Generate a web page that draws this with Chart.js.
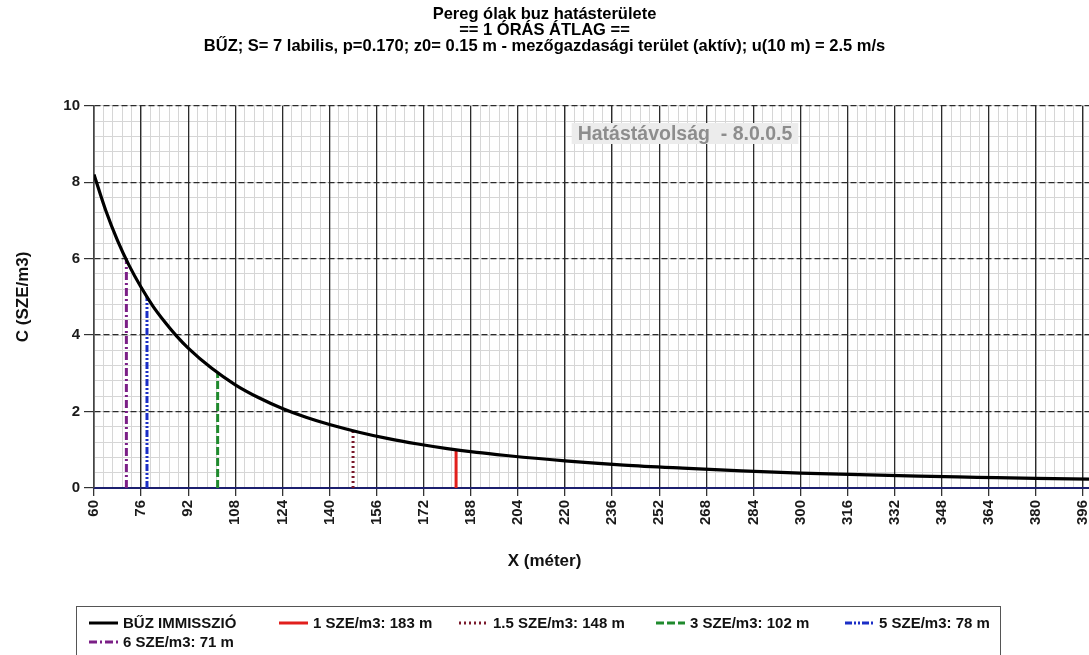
<!DOCTYPE html>
<html>
<head>
<meta charset="utf-8">
<script src="https://cdn.jsdelivr.net/npm/chart.js@4.4.1/dist/chart.umd.min.js"></script>
<style>
  html, body { margin: 0; padding: 0; background: #fff; }
  #wrap { width: 1089px; height: 655px; }
</style>
</head>
<body>
<div id="wrap"><canvas id="chart" width="1089" height="655"></canvas></div>
<script>
// distance from source (m) and concentration (SZE/m3)
const distances = [60, 64, 68, 72, 76, 80, 84, 88, 92, 100, 108, 116, 124, 132, 140, 150, 160, 170, 180, 190, 200, 220, 240, 260, 280, 300, 320, 340, 360, 380, 398];
const concentrations = [8.2, 7.26, 6.47, 5.81, 5.25, 4.76, 4.35, 3.98, 3.66, 3.13, 2.70, 2.36, 2.08, 1.85, 1.66, 1.46, 1.29, 1.15, 1.03, 0.93, 0.85, 0.71, 0.60, 0.52, 0.45, 0.39, 0.35, 0.31, 0.28, 0.25, 0.23];

// threshold markers
const limitLabels = ["1 SZE/m3: 183 m", "1.5 SZE/m3: 148 m", "3 SZE/m3: 102 m", "5 SZE/m3: 78 m", "6 SZE/m3: 71 m"];
const limitDistances = [183, 148, 102, 78, 71];
const limitLevels = [1, 1.5, 3, 5, 6];
const limitColors = ["#e11f1c", "#7a1a2c", "#1f8a2d", "#1b2ec6", "#7b1f86"];
const limitDashes = [[], [2, 3], [8, 3], [7, 2, 2, 2, 2, 2], [8, 3, 2, 3]];

const xTicks = [60, 76, 92, 108, 124, 140, 156, 172, 188, 204, 220, 236, 252, 268, 284, 300, 316, 332, 348, 364, 380, 396];
const yTicks = [0, 2, 4, 6, 8, 10];

const titleLines = [
  "Pereg ólak buz hatásterülete",
  "== 1 ÓRÁS ÁTLAG ==",
  "BŰZ; S= 7 labilis, p=0.170; z0= 0.15 m - mezőgazdasági terület (aktív); u(10 m) = 2.5 m/s"
];
const noteText = "Hatástávolság  - 8.0.0.5";

const FONT = '"Liberation Sans", Arial, sans-serif';
Chart.defaults.font.family = FONT;

const datasets = [{
  label: "BŰZ IMMISSZIÓ",
  data: distances.map((x, i) => ({ x: x, y: concentrations[i] })),
  showLine: true,
  borderColor: "#000",
  borderWidth: 3.2,
  pointRadius: 0,
  cubicInterpolationMode: "monotone",
  order: 0
}];
limitLabels.forEach((lab, i) => {
  datasets.push({
    label: lab,
    data: [{ x: limitDistances[i], y: 0 }, { x: limitDistances[i], y: limitLevels[i] }],
    showLine: true,
    borderColor: limitColors[i],
    borderWidth: 3,
    borderDash: limitDashes[i],
    pointRadius: 0,
    order: 1
  });
});

// light-grey box with the program version text
const notePlugin = {
  id: "note",
  beforeDatasetsDraw(chart) {
    const ctx = chart.ctx;
    ctx.save();
    ctx.font = "bold 19.5px " + FONT;
    const w = ctx.measureText(noteText).width;
    const cx = 685, cy = 134;
    ctx.fillStyle = "#ececec";
    ctx.fillRect(cx - w / 2 - 6, cy - 11, w + 12, 21);
    ctx.fillStyle = "#8d8d8d";
    ctx.textAlign = "center";
    ctx.textBaseline = "middle";
    ctx.fillText(noteText, cx, cy + 1);
    ctx.restore();
  }
};

// boxed legend below the x axis title
const boxLegend = {
  id: "boxLegend",
  afterDraw(chart) {
    const ctx = chart.ctx;
    const slots = [[89, 623], [279, 623], [459, 623], [656, 623], [845, 623], [89, 642]];
    ctx.save();
    ctx.fillStyle = "#fff";
    ctx.fillRect(76, 606, 924, 60);
    ctx.strokeStyle = "#555";
    ctx.lineWidth = 1;
    ctx.strokeRect(76.5, 606.5, 924, 60);
    ctx.font = "bold 15px " + FONT;
    ctx.textBaseline = "middle";
    chart.data.datasets.forEach((ds, i) => {
      const [x, y] = slots[i];
      ctx.strokeStyle = ds.borderColor;
      ctx.lineWidth = 3;
      ctx.setLineDash(ds.borderDash || []);
      ctx.beginPath();
      ctx.moveTo(x, y);
      ctx.lineTo(x + 29, y);
      ctx.stroke();
      ctx.setLineDash([]);
      ctx.fillStyle = "#111";
      ctx.fillText(ds.label, x + 34, y + 1);
    });
    ctx.restore();
  }
};

const config = {
  type: "scatter",
  data: { datasets: datasets },
  options: {
    responsive: false,
    animation: false,
    layout: { padding: { left: 0, right: 0, top: 0, bottom: 80 } },
    plugins: {
      legend: { display: false },
      tooltip: { enabled: false },
      title: {
        display: true,
        text: titleLines,
        color: "#000",
        font: { size: 16.5, weight: "bold", lineHeight: 0.97 },
        padding: { top: 6, bottom: 51.7 }
      },
      subtitle: {
        display: true,
        position: "bottom",
        text: "X (méter)",
        color: "#111",
        font: { size: 17, weight: "bold", lineHeight: 1.2 },
        padding: { top: 0, bottom: 3 }
      }
    },
    scales: {
      x: {
        type: "linear",
        position: "bottom",
        min: 60,
        max: 398,
        afterBuildTicks: s => { s.ticks = xTicks.map(v => ({ value: v })); },
        afterFit: s => { s.height = 63.6; s.paddingRight = 0; s.paddingLeft = 0; },
        ticks: {
          autoSkip: false,
          minRotation: 90,
          maxRotation: 90,
          color: "#1a1a1a",
          font: { size: 15, weight: "bold" },
          padding: 4
        },
        grid: { color: "#2b2b2b", lineWidth: 1.3, tickLength: 8, tickColor: "#333" },
        border: { color: "#1c1f6e", width: 2 }
      },
      xMinor: {
        type: "linear",
        position: "bottom",
        min: 60,
        max: 398,
        afterBuildTicks: s => {
          const t = [];
          for (let v = 60; v <= 398; v += 3.2) t.push({ value: v });
          s.ticks = t;
        },
        afterFit: s => { s.height = 0; s.paddingRight = 0; s.paddingLeft = 0; },
        ticks: { display: false },
        grid: { color: "#d6d6d6", lineWidth: 1, drawTicks: false, z: -2 },
        border: { display: false }
      },
      y: {
        position: "left",
        min: 0,
        max: 10,
        afterBuildTicks: s => { s.ticks = yTicks.map(v => ({ value: v })); },
        afterFit: s => { s.width = 94; },
        ticks: { color: "#1a1a1a", font: { size: 15, weight: "bold" }, padding: 4 },
        grid: { color: "#2b2b2b", lineWidth: 1.2, tickLength: 10, tickColor: "#333" },
        border: { color: "#444", width: 1.5, dash: [6, 3] },
        title: {
          display: true,
          text: "C (SZE/m3)",
          color: "#111",
          font: { size: 17, weight: "bold" },
          padding: { top: 13, bottom: 0 }
        }
      },
      yMinor: {
        position: "left",
        min: 0,
        max: 10,
        afterFit: s => { s.width = 0; },
        ticks: { display: false, stepSize: 0.4 },
        grid: { color: "#d6d6d6", lineWidth: 1, drawTicks: false, z: -2 },
        border: { display: false }
      }
    }
  },
  plugins: [notePlugin, boxLegend]
};

const myChart = new Chart(document.getElementById("chart"), config);
</script>
</body>
</html>
